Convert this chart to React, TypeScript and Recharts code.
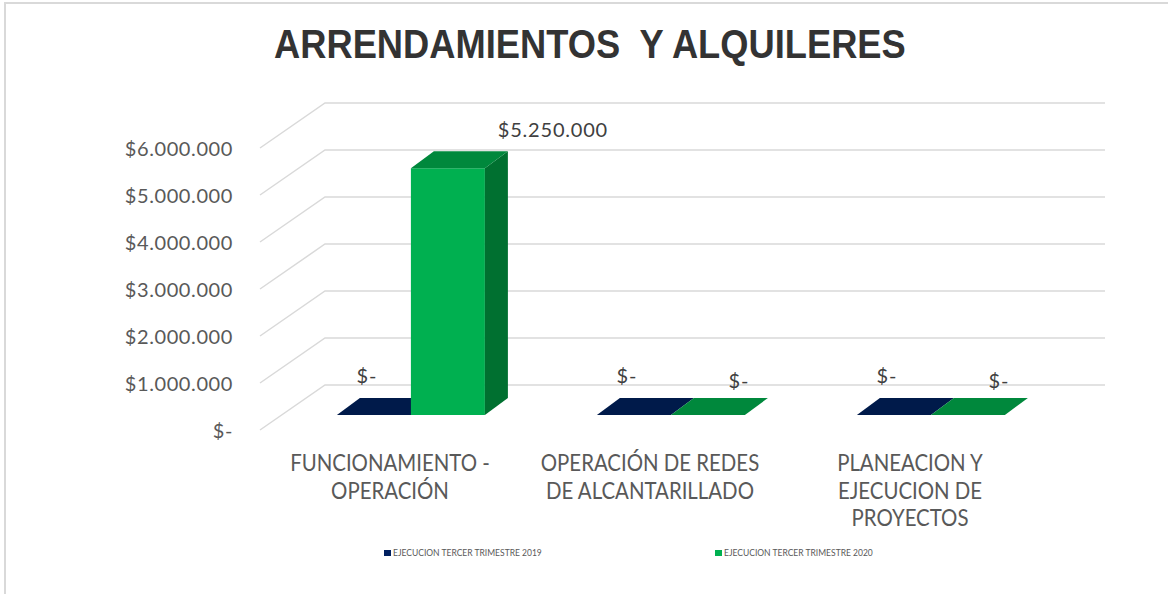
import { BarChart, Bar, XAxis, YAxis, CartesianGrid, LabelList } from "recharts";

const categories = [
  "FUNCIONAMIENTO - OPERACIÓN",
  "OPERACIÓN DE REDES DE ALCANTARILLADO",
  "PLANEACION Y EJECUCION DE PROYECTOS",
];
const categoryLines = [
  ["FUNCIONAMIENTO -", "OPERACIÓN"],
  ["OPERACIÓN DE REDES", "DE ALCANTARILLADO"],
  ["PLANEACION Y", "EJECUCION DE", "PROYECTOS"],
];
const ejecucion2019 = [0, 0, 0];
const ejecucion2020 = [5250000, 0, 0];
const yTicks = [0, 1000000, 2000000, 3000000, 4000000, 5000000, 6000000];

const series = [
  { key: "s2019", name: "EJECUCION TERCER TRIMESTRE 2019", front: "#002060", top: "#001a4a", side: "#00163f", zdx: -7, zdy: -40 },
  { key: "s2020", name: "EJECUCION TERCER TRIMESTRE 2020", front: "#00b050", top: "#00883c", side: "#007030", zdx: 31, zdy: -35 },
];

const data = categories.map((name, i) => ({
  name,
  s2019: ejecucion2019[i],
  s2020: ejecucion2020[i],
}));

// 3D offsets (px)
const FLOOR_DX = 21; // bar front plane -> floor front edge
const FLOOR_DY = 15;
const WALL_DX = 44; // bar front plane -> back wall
const WALL_DY = 30;
const BAR_DX = 23;
const BAR_DY = 17;

const fmt = (v: number) =>
  v === 0 ? "$-" : "$" + Math.round(v).toString().replace(/\B(?=(\d{3})+(?!\d))/g, ".");

const FONT = "Lato, 'Open Sans', sans-serif";

function makeBox(s: (typeof series)[number]) {
  return (props: any) => {
    const { x, y, width: w, height } = props;
    const h = Math.max(0, height || 0);
    return (
      <g>
        {h > 0 && <rect x={x} y={y} width={w} height={h} fill={s.front} />}
        {h > 0 && (
          <polygon
            points={`${x + w},${y} ${x + w + BAR_DX},${y - BAR_DY} ${x + w + BAR_DX},${y + h - BAR_DY} ${x + w},${y + h}`}
            fill={s.side}
          />
        )}
        <polygon
          points={`${x},${y} ${x + BAR_DX},${y - BAR_DY} ${x + w + BAR_DX},${y - BAR_DY} ${x + w},${y}`}
          fill={s.top}
        />
      </g>
    );
  };
}

function makeLabel(s: (typeof series)[number]) {
  return (props: any) => {
    const { x, y, width, value } = props;
    const cx = value === 0 ? x + width / 2 + s.zdx : x + width / 2 + 105;
    const cy = value === 0 ? y + s.zdy : y - 39;
    return (
      <text x={cx} y={cy} textAnchor="middle" dominantBaseline="central" fontFamily={FONT} fontSize={20} letterSpacing={0.8} fill="#404040">
        {fmt(value)}
      </text>
    );
  };
}

const GridLine = (props: any) => {
  const { x1, x2, y1 } = props;
  return (
    <polyline
      key={props.key}
      points={`${x1 - FLOOR_DX},${y1 + FLOOR_DY} ${x1 + WALL_DX},${y1 - WALL_DY} ${x2 + WALL_DX},${y1 - WALL_DY}`}
      fill="none"
      stroke="#d9d9d9"
      strokeWidth={1.5}
    />
  );
};

const YTick = (props: any) => {
  const { y, payload } = props;
  return (
    <text x={233} y={y + FLOOR_DY} textAnchor="end" dominantBaseline="central" fontFamily={FONT} fontSize={20} letterSpacing={0.6} fill="#595959">
      {fmt(payload.value)}
    </text>
  );
};

const XTick = (props: any) => {
  const { x, payload, index } = props;
  const lines = categoryLines[index] || [payload.value];
  return (
    <g>
      {lines.map((l, i) => (
        <text
          key={i}
          transform={`translate(${x - FLOOR_DX},${462 + i * 27.5}) scale(0.85,1)`}
          textAnchor="middle"
          dominantBaseline="central"
          fontFamily={FONT}
          fontSize={24}
          fill="#595959"
        >
          {l}
        </text>
      ))}
    </g>
  );
};

export default function App() {
  return (
    <div style={{ position: "absolute", left: 0, top: 0, width: 1168, height: 594, background: "#fff", overflow: "hidden" }}>
      <div style={{ position: "absolute", left: 4, top: 2, right: 0, bottom: 0, borderTop: "2px solid #d9d9d9", borderLeft: "2px solid #d9d9d9" }} />
      <div
        style={{
          position: "absolute",
          left: 0,
          width: 1168,
          top: 21,
          textAlign: "center",
          paddingLeft: 12,
          boxSizing: "border-box",
        }}
      >
        <span
          style={{
            display: "inline-block",
            transform: "scaleX(0.885)",
            fontFamily: "'Liberation Sans', Arial, sans-serif",
            fontWeight: 700,
            fontSize: 41,
            color: "#333",
            whiteSpace: "pre",
          }}
        >
          ARRENDAMIENTOS  Y ALQUILERES
        </span>
      </div>
      <div style={{ position: "absolute", left: 0, top: 0 }}>
        <BarChart
          width={1168}
          height={594}
          data={data}
          margin={{ top: 133, right: 107, left: 221, bottom: 139 }}
          barCategoryGap="21.5%"
          barGap={0}
        >
          <CartesianGrid vertical={false} horizontal={GridLine} horizontalValues={yTicks} />
          <YAxis
            width={60}
            domain={[0, 6000000]}
            ticks={yTicks}
            axisLine={false}
            tickLine={false}
            tick={YTick}
            interval={0}
          />
          <XAxis dataKey="name" height={40} axisLine={false} tickLine={false} tick={XTick} interval={0} />
          {series.map((s) => (
            <Bar key={s.key} dataKey={s.key} name={s.name} fill={s.front} shape={makeBox(s)} isAnimationActive={false}>
              <LabelList dataKey={s.key} content={makeLabel(s)} />
            </Bar>
          ))}
        </BarChart>
      </div>
      <div style={{ position: "absolute", top: 548, left: 384, display: "flex", fontFamily: FONT, fontSize: 8.5, color: "#595959" }}>
        {series.map((s, i) => (
          <div key={s.key} style={{ display: "flex", alignItems: "center", width: i === 0 ? 331 : 170 }}>
            <span style={{ display: "inline-block", width: 7, height: 6, background: s.front, marginRight: 2 }} />
            <span>{s.name}</span>
          </div>
        ))}
      </div>
    </div>
  );
}
